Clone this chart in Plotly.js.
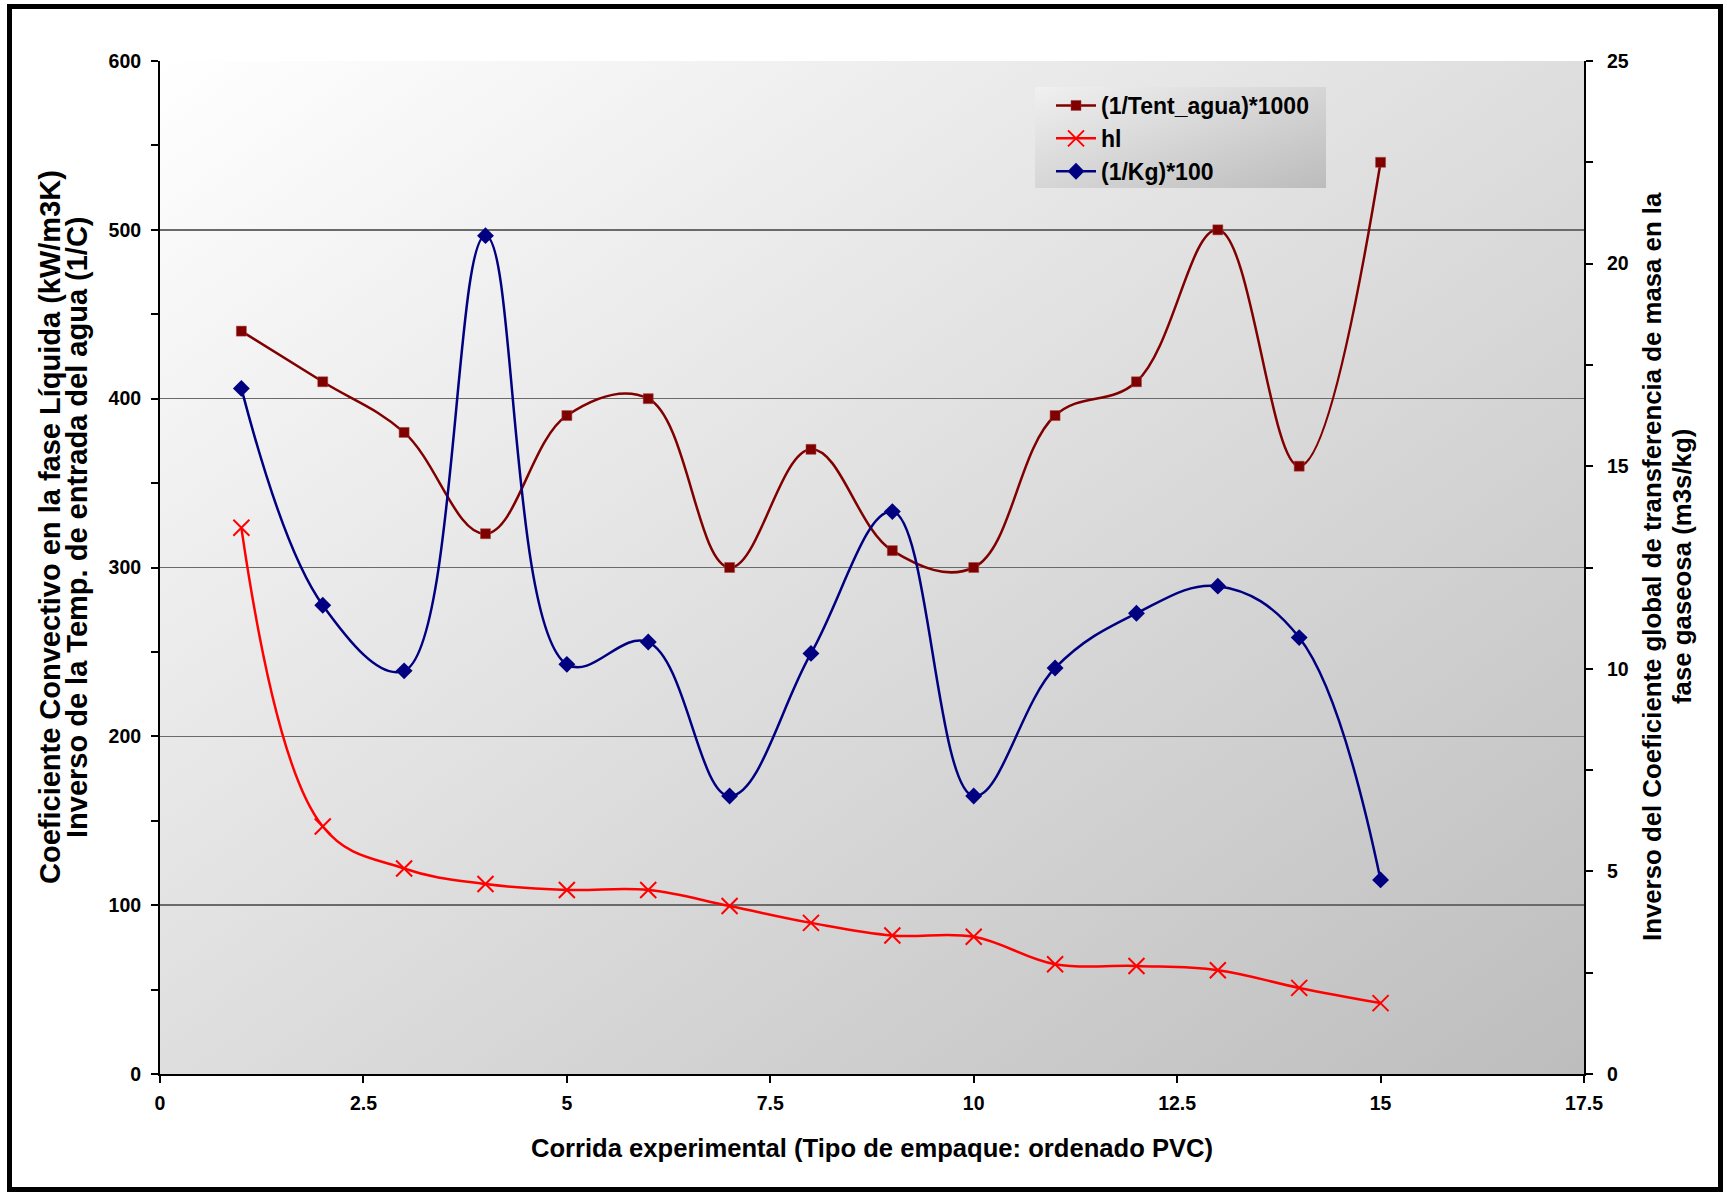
<!DOCTYPE html>
<html>
<head>
<meta charset="utf-8">
<script src="https://cdn.plot.ly/plotly-3.0.1.min.js"></script>
<style>
  html, body { margin: 0; padding: 0; background: #ffffff; }
  #wrap { position: relative; width: 1727px; height: 1192px; }
  #chart { position: absolute; left: 0; top: 0; width: 1727px; height: 1192px; }
  #frame { position: absolute; left: 7px; top: 4px; width: 1716px; height: 1188px;
           box-sizing: border-box; border: 5px solid #000; pointer-events: none; }
</style>
</head>
<body>
<div id="wrap">
  <div id="chart"></div>
  <div id="frame"></div>
</div>
<script>
// ---- data ----
const corrida = [1, 2, 3, 4, 5, 6, 7, 8, 9, 10, 11, 12, 13, 14, 15];
const invTentAgua1000 = [440, 410, 380, 320, 390, 400, 300, 370, 310, 300, 390, 410, 500, 360, 540];
const hl = [323.5, 146.6, 121.7, 112.5, 109, 109, 99.5, 89.5, 82, 81.3, 65, 64, 61.5, 51, 42];
const invKg100 = [16.92, 11.57, 9.95, 20.69, 10.11, 10.66, 6.86, 10.38, 13.88, 6.86, 10.02, 11.37, 12.04, 10.77, 4.79];

const seriesNames = ['(1/Tent_agua)*1000', 'hl', '(1/Kg)*100'];
const xTitle = 'Corrida experimental (Tipo de empaque: ordenado PVC)';
const yLeftTitleLines = ['Coeficiente Convectivo en la fase Líquida (kW/m3K)',
                         'Inverso de la Temp. de entrada del agua (1/C)'];
const yRightTitleLines = ['Inverso del Coeficiente global de transferencia de masa en la',
                          'fase gaseosa (m3s/kg)'];

// ---- layout geometry ----
const W = 1727, H = 1192;
const M = { l: 160, r: 143, t: 61, b: 118 };
const PW = W - M.l - M.r, PH = H - M.t - M.b;
const px2x = p => (p - M.l) / PW;
const px2y = p => (H - M.b - p) / PH;

const FONT = 'Liberation Sans, Arial, sans-serif';

const grad = (c0, c1) => 'data:image/svg+xml;utf8,' + encodeURIComponent(
  "<svg xmlns='http://www.w3.org/2000/svg' width='200' height='200' preserveAspectRatio='none'>" +
  "<defs><linearGradient id='g' x1='0' y1='0' x2='1' y2='1'>" +
  "<stop offset='0' stop-color='" + c0 + "'/><stop offset='1' stop-color='" + c1 + "'/></linearGradient></defs>" +
  "<rect width='200' height='200' fill='url(#g)'/></svg>");

const lineW = 2.5;
const traces = [
  {
    x: corrida, y: invTentAgua1000, name: seriesNames[0], type: 'scatter', mode: 'lines+markers',
    line: { color: '#800000', width: lineW, shape: 'spline', smoothing: 1.1 },
    marker: { symbol: 'square', size: 10, color: '#800000', line: { color: '#a04040', width: 0.5 } },
    yaxis: 'y'
  },
  {
    x: corrida, y: hl, name: seriesNames[1], type: 'scatter', mode: 'lines+markers',
    line: { color: '#ff0000', width: lineW, shape: 'spline', smoothing: 1.1 },
    marker: { symbol: 'x-thin', size: 16, color: '#ff0000', line: { color: '#ff0000', width: 2 } },
    yaxis: 'y'
  },
  {
    x: corrida, y: invKg100, name: seriesNames[2], type: 'scatter', mode: 'lines+markers',
    line: { color: '#000080', width: lineW, shape: 'spline', smoothing: 1.1 },
    marker: { symbol: 'diamond', size: 13, color: '#000080' },
    yaxis: 'y2'
  }
];

const tickFont = { family: FONT, size: 19.5, color: '#000', weight: 'bold' };

function titleLine(text, xpx, ypx, size) {
  return { text: text, textangle: -90, showarrow: false,
    xref: 'paper', yref: 'paper', x: px2x(xpx), y: px2y(ypx), xanchor: 'center', yanchor: 'middle',
    font: { family: FONT, size: size, color: '#000', weight: 'bold' } };
}

const layout = {
  width: W, height: H,
  margin: M,
  paper_bgcolor: '#ffffff',
  plot_bgcolor: 'rgba(0,0,0,0)',
  font: { family: FONT, color: '#000', weight: 'bold' },
  showlegend: true,
  xaxis: {
    range: [0, 17.5], dtick: 2.5, tick0: 0,
    showgrid: false, zeroline: false,
    showline: true, linecolor: '#000', linewidth: 2,
    ticks: 'outside', ticklen: 7, tickwidth: 2, tickcolor: '#000',
    tickfont: tickFont, ticklabelstandoff: 4,
    automargin: false,
    title: { text: xTitle, font: { family: FONT, size: 25.6, color: '#000', weight: 'bold' }, standoff: 26 }
  },
  yaxis: {
    range: [0, 600], dtick: 100, tick0: 0,
    showgrid: true, gridcolor: '#6a6a6a', gridwidth: 1.6,
    zeroline: false,
    showline: true, linecolor: '#000', linewidth: 2,
    ticks: 'outside', ticklen: 7, tickwidth: 2, tickcolor: '#000',
    minor: { dtick: 50, ticks: 'outside', ticklen: 7, tickwidth: 2, tickcolor: '#000', showgrid: false },
    tickfont: tickFont, ticklabelstandoff: 6,
    automargin: false
  },
  yaxis2: {
    overlaying: 'y', side: 'right',
    range: [0, 25], dtick: 5, tick0: 0,
    showgrid: false, zeroline: false,
    showline: true, linecolor: '#000', linewidth: 2,
    ticks: 'outside', ticklen: 7, tickwidth: 2, tickcolor: '#000',
    minor: { dtick: 2.5, ticks: 'outside', ticklen: 7, tickwidth: 2, tickcolor: '#000', showgrid: false },
    tickfont: tickFont, ticklabelstandoff: 10,
    automargin: false
  },
  legend: {
    x: px2x(1051), y: px2y(84), xanchor: 'left', yanchor: 'top',
    bgcolor: 'rgba(0,0,0,0)', borderwidth: 0,
    font: { family: FONT, size: 23, color: '#000', weight: 'bold' },
    tracegroupgap: 0, itemwidth: 40
  },
  images: [
    { source: grad('#ffffff', '#bdbdbd'), xref: 'paper', yref: 'paper', x: 0, y: 1, sizex: 1, sizey: 1,
      xanchor: 'left', yanchor: 'top', sizing: 'stretch', layer: 'below' },
    { source: grad('#f0f0f0', '#bcbcbc'), xref: 'paper', yref: 'paper',
      x: px2x(1035), y: px2y(87), sizex: (1326 - 1035) / PW, sizey: (188 - 87) / PH,
      xanchor: 'left', yanchor: 'top', sizing: 'stretch', layer: 'above' }
  ],
  annotations: [
    titleLine(yLeftTitleLines[0], 50, 527, 29),
    titleLine(yLeftTitleLines[1], 77, 527, 29),
    titleLine(yRightTitleLines[0], 1652, 567, 25.8),
    titleLine(yRightTitleLines[1], 1682, 567, 25.8)
  ]
};

Plotly.newPlot('chart', traces, layout, { staticPlot: true, displayModeBar: false });
</script>
</body>
</html>
